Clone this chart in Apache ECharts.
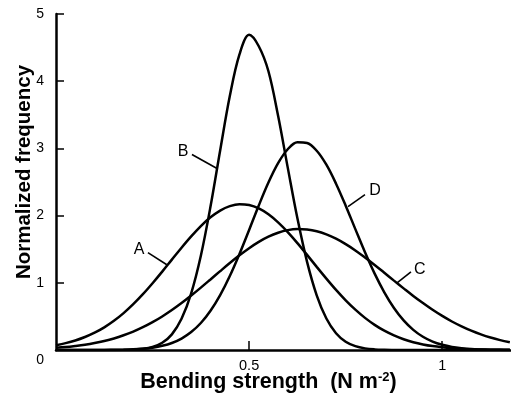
<!DOCTYPE html>
<html>
<head>
<meta charset="utf-8">
<script src="https://cdn.jsdelivr.net/npm/echarts@6/dist/echarts.min.js"></script>
<style>
html,body{margin:0;padding:0;background:#fff;}
#chart{width:511px;height:397px;}
</style>
</head>
<body>
<div id="chart"></div>
<script>
// Bending strength sample points (N m^-2)
const xs = [0,0.025,0.05,0.075,0.1,0.125,0.15,0.175,0.2,0.225,0.25,0.275,0.3,0.325,0.35,0.375,0.4,0.425,0.45,0.475,0.5,0.525,0.55,0.575,0.6,0.625,0.65,0.675,0.7,0.725,0.75,0.775,0.8,0.825,0.85,0.875,0.9,0.925,0.95,0.975,1.0,1.025,1.05,1.075,1.1,1.125,1.15,1.175];
// Normalized frequency, curve A
const curveA = [0.072,0.102,0.141,0.193,0.257,0.337,0.434,0.549,0.682,0.831,0.994,1.166,1.345,1.522,1.690,1.844,1.974,2.075,2.141,2.170,2.157,2.106,2.019,1.899,1.754,1.591,1.416,1.237,1.062,0.894,0.739,0.600,0.478,0.374,0.287,0.217,0.160,0.116,0.083,0.058,0.040,0.027,0.018,0.012,0.007,0.005,0.003,0.002];
// curve B
const curveB = [0,0,0,0,0,0,0,0.002,0.006,0.017,0.045,0.107,0.233,0.464,0.843,1.402,2.134,2.969,3.779,4.398,4.69,4.52,4.148,3.485,2.714,1.959,1.312,0.814,0.468,0.250,0.123,0.057,0.024,0.009,0.003,0.001,0,0,0,0,0,0,0,0,0,0,0,0];
// curve C
const curveC = [0.032,0.043,0.059,0.078,0.103,0.134,0.172,0.219,0.274,0.339,0.414,0.499,0.594,0.698,0.810,0.928,1.050,1.173,1.294,1.409,1.515,1.609,1.686,1.745,1.784,1.800,1.793,1.767,1.720,1.656,1.575,1.482,1.377,1.266,1.150,1.032,0.917,0.804,0.698,0.598,0.507,0.424,0.352,0.288,0.233,0.186,0.147,0.115];
// curve D
const curveD = [0,0,0,0,0.001,0.001,0.003,0.005,0.010,0.019,0.035,0.062,0.104,0.170,0.267,0.402,0.585,0.818,1.102,1.430,1.787,2.151,2.492,2.780,2.987,3.091,3.081,2.965,2.757,2.475,2.147,1.799,1.455,1.137,0.859,0.626,0.441,0.300,0.197,0.125,0.077,0.045,0.026,0.014,0.008,0.004,0.002,0.001];
const seriesNames = ['A','B','C','D'];
const yTicks = [0,1,2,3,4,5];
const xTickLabels = ['0.5','1'];

// label annotations (text anchor, leader start, leader end) in data coords
const annot = {
  A: {text:[0.215,1.49], from:[0.238,1.448], to:[0.287,1.269]},
  B: {text:[0.329,2.955], from:[0.352,2.91], to:[0.417,2.70]},
  C: {text:[0.942,1.194], from:[0.919,1.164], to:[0.883,1.0]},
  D: {text:[0.826,2.373], from:[0.800,2.313], to:[0.756,2.134]}
};

const FONT = '"Liberation Sans", Arial, Helvetica, sans-serif';
const values = {A:curveA, B:curveB, C:curveC, D:curveD};

const series = seriesNames.map(n => ({
  name: n,
  type: 'line',
  data: xs.map((x,i) => [x, values[n][i]]),
  smooth: 0.35,
  showSymbol: false,
  symbol: 'none',
  lineStyle: {color:'#000', width:2.5},
  itemStyle: {color:'#000'},
  markLine: {
    silent: true,
    symbol: 'none',
    label: {show:false},
    lineStyle: {color:'#000', width:1.6, type:'solid'},
    data: [[{coord: annot[n].from}, {coord: annot[n].to}]]
  },
  markPoint: {
    silent: true,
    symbol: 'circle',
    symbolSize: 1,
    itemStyle: {color:'rgba(0,0,0,0)'},
    label: {show:true, position:'inside', formatter:n, color:'#000', fontSize:16, fontFamily:FONT, fontWeight:'normal'},
    data: [{coord: annot[n].text}]
  }
}));

const chart = echarts.init(document.getElementById('chart'), null, {renderer:'canvas'});
chart.setOption({
  animation: false,
  backgroundColor: '#fff',
  grid: {left:56, right:0, top:14, bottom:47, containLabel:false, outerBoundsMode:'none'},
  xAxis: {
    type: 'value',
    min: 0, max: 1.178, interval: 0.5,
    name: 'Bending strength  (N m{sup|-2})',
    nameLocation: 'middle',
    nameGap: 21,
    nameMoveOverlap: false,
    nameTextStyle: {
      color:'#000', fontSize:21.5, fontWeight:'bold', fontFamily:FONT,
      padding:[0,30,0,0],
      rich: {sup: {fontSize:13, fontWeight:'bold', fontFamily:FONT, color:'#000', verticalAlign:'top', padding:[0,0,10,0]}}
    },
    axisLine: {lineStyle:{color:'#000', width:2.5}},
    axisTick: {inside:true, length:9, lineStyle:{color:'#000', width:1.5}},
    axisLabel: {
      margin: 8, color:'#000', fontSize:14.5, fontFamily:FONT,
      showMinLabel:false, showMaxLabel:false,
      formatter: v => (v === 0.5 ? xTickLabels[0] : (v === 1 ? xTickLabels[1] : ''))
    },
    splitLine: {show:false}
  },
  yAxis: {
    type: 'value',
    min: yTicks[0], max: yTicks[yTicks.length-1], interval: 1,
    name: 'Normalized frequency',
    nameLocation: 'middle',
    nameGap: 21,
    nameMoveOverlap: false,
    nameTextStyle: {color:'#000', fontSize:20.5, fontWeight:'bold', fontFamily:FONT, padding:[0,0,0,20]},
    axisLine: {lineStyle:{color:'#000', width:2.5}},
    axisTick: {inside:true, length:8, lineStyle:{color:'#000', width:1.5}},
    axisLabel: {
      margin: 12, color:'#000', fontSize:14, fontFamily:FONT,
      formatter: v => (v === 0 ? '{z|0}' : String(v)),
      rich: {z: {padding:[20,0,0,0], fontSize:14, fontFamily:FONT, color:'#000'}}
    },
    splitLine: {show:false}
  },
  series: series
});
</script>
</body>
</html>
